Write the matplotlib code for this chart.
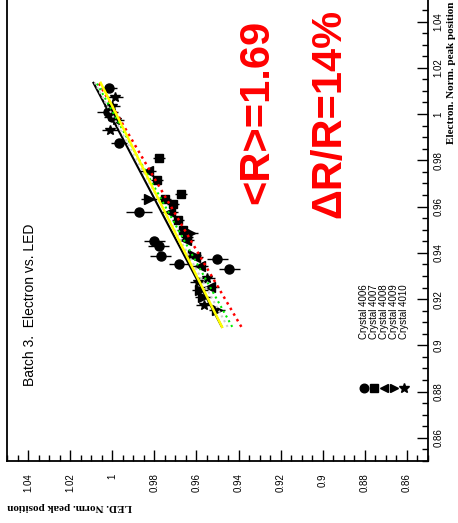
import matplotlib
matplotlib.use('Agg')
import matplotlib.pyplot as plt
import numpy as np
from matplotlib.ticker import MultipleLocator, FuncFormatter

# ---------------- data (LED norm. peak, Electron norm. peak) ----------------
crystals = ['Crystal 4006', 'Crystal 4007', 'Crystal 4008', 'Crystal 4009', 'Crystal 4010']

led_4006 = [1.0016, 1.0021, 1.0002, 0.9969, 0.9873, 0.9802, 0.9779, 0.9769, 0.9683, 0.9502, 0.9445]
elec_4006 = [1.0113, 1.0009, 0.9987, 0.9875, 0.9577, 0.9451, 0.9430, 0.9386, 0.9352, 0.9373, 0.9330]
err_4006 = [0.004, 0.005, 0.004, 0.004, 0.006, 0.005, 0.005, 0.005, 0.005, 0.005, 0.005]

led_4007 = [0.9778, 0.9788, 0.9673, 0.9750, 0.9712, 0.9688, 0.9664, 0.9645]
elec_4007 = [0.9810, 0.9715, 0.9654, 0.9633, 0.9611, 0.9542, 0.9499, 0.9468]
err_4007 = [0.003, 0.003, 0.003, 0.003, 0.003, 0.003, 0.003, 0.003]

led_4008 = [0.9831, 0.9726, 0.9650, 0.9607, 0.9583, 0.9535]
elec_4008 = [0.9754, 0.9577, 0.9456, 0.9382, 0.9343, 0.9252]
err_4008 = [0.004, 0.004, 0.004, 0.004, 0.004, 0.004]

led_4009 = [0.9826, 0.9631, 0.9617, 0.9583, 0.9569, 0.9502]
elec_4009 = [0.9633, 0.9486, 0.9391, 0.9239, 0.9209, 0.9153]
err_4009 = [0.004, 0.004, 0.004, 0.004, 0.004, 0.004]

led_4010 = [0.9988, 1.0002, 0.9983, 1.0011, 0.9593, 0.9550, 0.9564]
elec_4010 = [1.0074, 1.0034, 0.9974, 0.9931, 0.9274, 0.9291, 0.9174]
err_4010 = [0.004, 0.004, 0.004, 0.004, 0.004, 0.004, 0.004]

# linear fits LED = a + b * Electron
fit_a = [0.4222, 0.3539, 0.3873, 0.4013, 0.4512]
fit_b = [0.579, 0.644, 0.612, 0.599, 0.547]
fit_range = [0.908, 1.0135]

leds = [led_4006, led_4007, led_4008, led_4009, led_4010]
elecs = [elec_4006, elec_4007, elec_4008, elec_4009, elec_4010]
errs = [err_4006, err_4007, err_4008, err_4009, err_4010]

markers = ['o', 's', '<', '>', '*']
msizes = [6.5, 6.0, 6.5, 6.5, 7.5]
line_colors = ['#000000', '#ff0000', '#00ee00', '#cccccc', '#ffff00']
line_styles = ['-', (0, (1, 1.6)), (0, (1, 1.6)), (0, (1, 1.6)), '-']
line_widths = [1.5, 1.8, 1.5, 1.5, 1.8]

# ---------------- figure ----------------
W, H = 458, 523
fig = plt.figure(figsize=(W / 100, H / 100), dpi=100)
ax = fig.add_axes([7.3 / W, 62 / H, 420.4 / W, 462.6 / H])

ax.set_xlim(1.05, 0.85)
ax.set_ylim(0.85, 1.05)

for led, el, er, m, ms in zip(leds, elecs, errs, markers, msizes):
    ax.errorbar(led, el, xerr=er, fmt=m, color='black', ms=ms, mec='black',
                elinewidth=1.0, capsize=0, zorder=3)

for a, b, c, ls, lw in zip(fit_a, fit_b, line_colors, line_styles, line_widths):
    e = np.array(fit_range)
    ax.plot(a + b * e, e, color=c, ls=ls, lw=lw, zorder=4)

tickfont = 'Liberation Sans'
ax.xaxis.set_major_locator(MultipleLocator(0.02))
ax.xaxis.set_minor_locator(MultipleLocator(0.005))
ax.yaxis.set_major_locator(MultipleLocator(0.02))
ax.yaxis.set_minor_locator(MultipleLocator(0.005))
fmt = FuncFormatter(lambda v, p: f'{v:g}')
ax.xaxis.set_major_formatter(fmt)
ax.yaxis.set_major_formatter(fmt)

ax.tick_params(axis='x', which='both', direction='in', bottom=True, top=False,
               labelbottom=True, labelrotation=90, labelsize=7, pad=9, width=1)
ax.tick_params(axis='y', which='both', direction='in', left=False, right=True,
               labelleft=False, labelright=True, labelrotation=90, labelsize=7, pad=4, width=1)
ax.tick_params(which='major', length=8)
ax.tick_params(which='minor', length=4)
for lbl in ax.get_xticklabels() + ax.get_yticklabels():
    lbl.set_fontfamily(tickfont)
for lbl in ax.get_yticklabels():
    lbl.set_va('center')
for s in ax.spines.values():
    s.set_linewidth(1.3)

# axis titles
fig.text(7 / W, (H - 506) / H, 'LED. Norm. peak position', rotation=180,
         ha='left', va='center', fontfamily='Liberation Serif', fontweight='bold', fontsize=8)
fig.text(452 / W, 0.997, 'Electron. Norm. peak position', rotation=90,
         ha='center', va='top', fontfamily='Liberation Serif', fontweight='bold', fontsize=8)

# title
fig.text(30 / W, (H - 305) / H, 'Batch 3.  Electron vs. LED', rotation=90,
         ha='center', va='center', fontfamily='Liberation Sans', fontsize=10)

# red annotations
fig.text(257 / W, (H - 112) / H, '<R>=1.69', rotation=90, ha='center', va='center',
         color='#ff0000', fontfamily='Liberation Sans', fontweight='bold', fontsize=30)
fig.text(329 / W, (H - 113) / H, 'ΔR/R=14%', rotation=90, ha='center', va='center',
         color='#ff0000', fontfamily='Liberation Sans', fontweight='bold', fontsize=30)

# legend (rotated, drawn manually)
leg_x = [364, 374, 384, 394, 404]
for name, m, ms, x in zip(crystals, markers, msizes, leg_x):
    ax.plot([x / W], [(H - 388) / H], marker=m, ms=ms * 0.95, color='black',
            transform=fig.transFigure, clip_on=False, ls='none')
    fig.text(x / W, (H - 339) / H, name, rotation=90, rotation_mode='anchor',
             ha='left', va='center', fontfamily='Liberation Sans', fontsize=7)

fig.savefig('out.png', dpi=100)
